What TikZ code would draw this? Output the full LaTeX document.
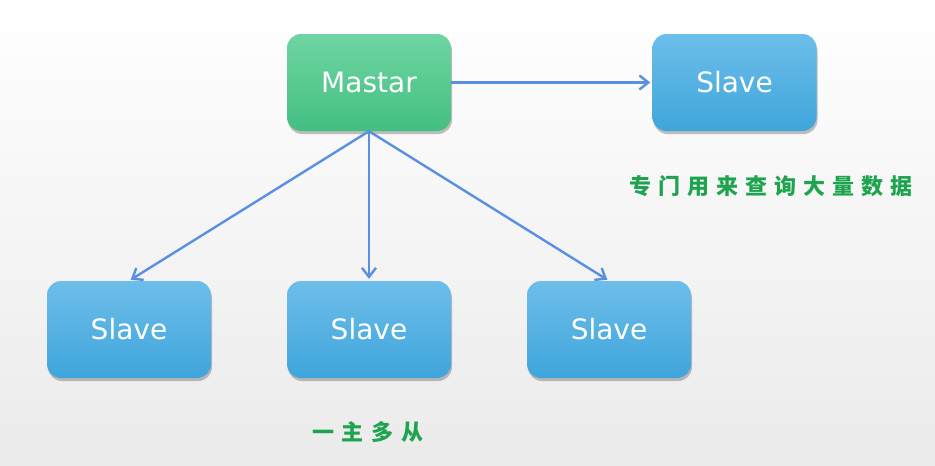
\documentclass[tikz,border=0pt]{standalone}
\usepackage{fontspec}
\setmainfont{DejaVu Sans}
\newfontfamily\cjk{Noto Sans CJK SC}
\usetikzlibrary{shadows,arrows.meta}
\definecolor{mastertop}{HTML}{6FD5A2}
\definecolor{masterbot}{HTML}{43BF82}
\definecolor{slavetop}{HTML}{6DBEEA}
\definecolor{slavebot}{HTML}{3FA5DB}
\definecolor{linkblue}{HTML}{5B8FE2}
\definecolor{notegreen}{HTML}{1EA34F}
\begin{document}
\begin{tikzpicture}[x=1pt, y=-1pt,
    box/.style={rounded corners=14pt, minimum width=164pt, minimum height=97pt,
      text=white, font=\fontsize{28}{32}\selectfont,
      drop shadow={shadow xshift=1pt, shadow yshift=-3pt, opacity=0.5}},
    masterbox/.style={box, top color=mastertop, bottom color=masterbot},
    slavebox/.style={box, top color=slavetop, bottom color=slavebot},
    link/.style={draw=linkblue, line width=2.4pt, shorten >=2pt,
      -{Straight Barb[length=9pt,width=14pt,line width=2.4pt]}},
    note/.style={text=notegreen, font=\cjk\bfseries\fontsize{22}{26}\selectfont}]
  % Background
  \fill[top color=white, bottom color=black!8] (0,0) rectangle (935,466);
  \useasboundingbox (0,0) rectangle (935,466);

  % Master and the reading slave
  \node[masterbox] (master) at (369,82.5) {Mastar};
  \node[slavebox] (reader) at (734.5,82.5) {Slave};

  % Slaves below
  \node[slavebox] (slaveA) at (129,329.5) {Slave};
  \node[slavebox] (slaveB) at (369,329.5) {Slave};
  \node[slavebox] (slaveC) at (609,329.5) {Slave};

  % Links
  \draw[link] (master.east) -- (reader.west);
  \draw[link] (master.south) -- (slaveA.north);
  \draw[link] (master.south) -- (slaveB.north);
  \draw[link] (master.south) -- (slaveC.north);

  % Notes
  \node[note] (readnote) at (771,186) {专\hspace{7pt}门\hspace{7pt}用\hspace{7pt}来\hspace{7pt}查\hspace{7pt}询\hspace{7pt}大\hspace{7pt}量\hspace{7pt}数\hspace{7pt}据};
  \node[note] (multinote) at (368,432) {一\hspace{8pt}主\hspace{8pt}多\hspace{8pt}从};
\end{tikzpicture}
\end{document}
